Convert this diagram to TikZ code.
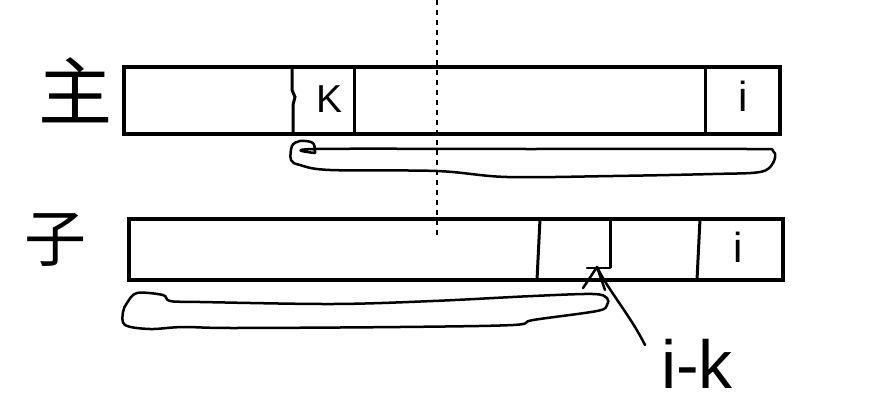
\documentclass[tikz,border=0pt]{standalone}
\usepackage{fontspec}
\setmainfont{Liberation Sans}
\newfontfamily\cjk{Noto Sans CJK SC}
\begin{document}
\begin{tikzpicture}[x=1pt,y=-1pt,
  frame/.style={line width=4.5pt, line join=miter},
  divider/.style={line width=3pt},
  sketch/.style={line width=2.5pt, line cap=round, line join=round},
  lbl/.style={inner sep=0pt, outer sep=0pt},
  axis/.style={line width=2.8pt, dash pattern=on 5pt off 5pt}]
\useasboundingbox (0,0) rectangle (878,412);
% dotted symmetry line
\coordinate (dtop) at (437,0);
\coordinate (dbot) at (437,237);
\draw[axis] (dtop) -- (dbot);
% top array
\draw[frame] (124,67) rectangle (780,134);
\draw[divider] (292,67) -- (292,90) -- (295,97) -- (293,105) -- (293,134);
\draw[divider] (354,67) -- (354,134);
\draw[divider] (705,67) -- (705,134);
\node[lbl] (K) at (330,99) {\fontsize{39}{39}\selectfont K};
\node[lbl] (it) at (743,96) {\fontsize{42}{42}\selectfont i};
\node[lbl] (zhu) at (75,90) {\cjk\fontsize{74}{74}\selectfont 主};
% top loop
\draw[sketch] plot[smooth, tension=0.55] coordinates {
 (315,153) (313,143) (300,141) (292,146) (291,160) (300,165) (330,170)
 (437,171) (507,177) (613,176) (713,174) (760,172) (773,163) (773,151)
 (747,149) (530,149) (315,149) (315,153)};
% bottom array
\draw[frame] (129,219) rectangle (783,280);
\draw[divider] (540,219) -- (537,280);
\draw[divider] (610,219) -- (610,268);
\draw[divider] (700,219) -- (697,280);
\node[lbl] (ib) at (738,247) {\fontsize{42}{42}\selectfont i};
\node[lbl] (zi) at (55,240) {\cjk\fontsize{62}{62}\selectfont 子};
% bottom loop
\draw[sketch] plot[smooth cycle, tension=0.55] coordinates {
 (137,293) (163,295) (170,301) (200,302) (333,304) (433,301) (533,296)
 (593,294) (607,298) (607,305) (597,311) (533,320) (513,325) (400,327)
 (233,328) (183,327) (150,329) (125,325) (123,312) (127,303)};
% mark i-k
\coordinate (mk) at (597,267);
\draw[sketch] (587,268) -- (610,268);
\draw[sketch] (583,288) -- (mk) -- (605,290);
\node[lbl] (ik) at (697,364) {\fontsize{68}{68}\selectfont i-k};
\coordinate (ikend) at (645,345);
\draw[sketch] (mk) .. controls (608,290) and (630,315) .. (ikend);
\end{tikzpicture}
\end{document}
